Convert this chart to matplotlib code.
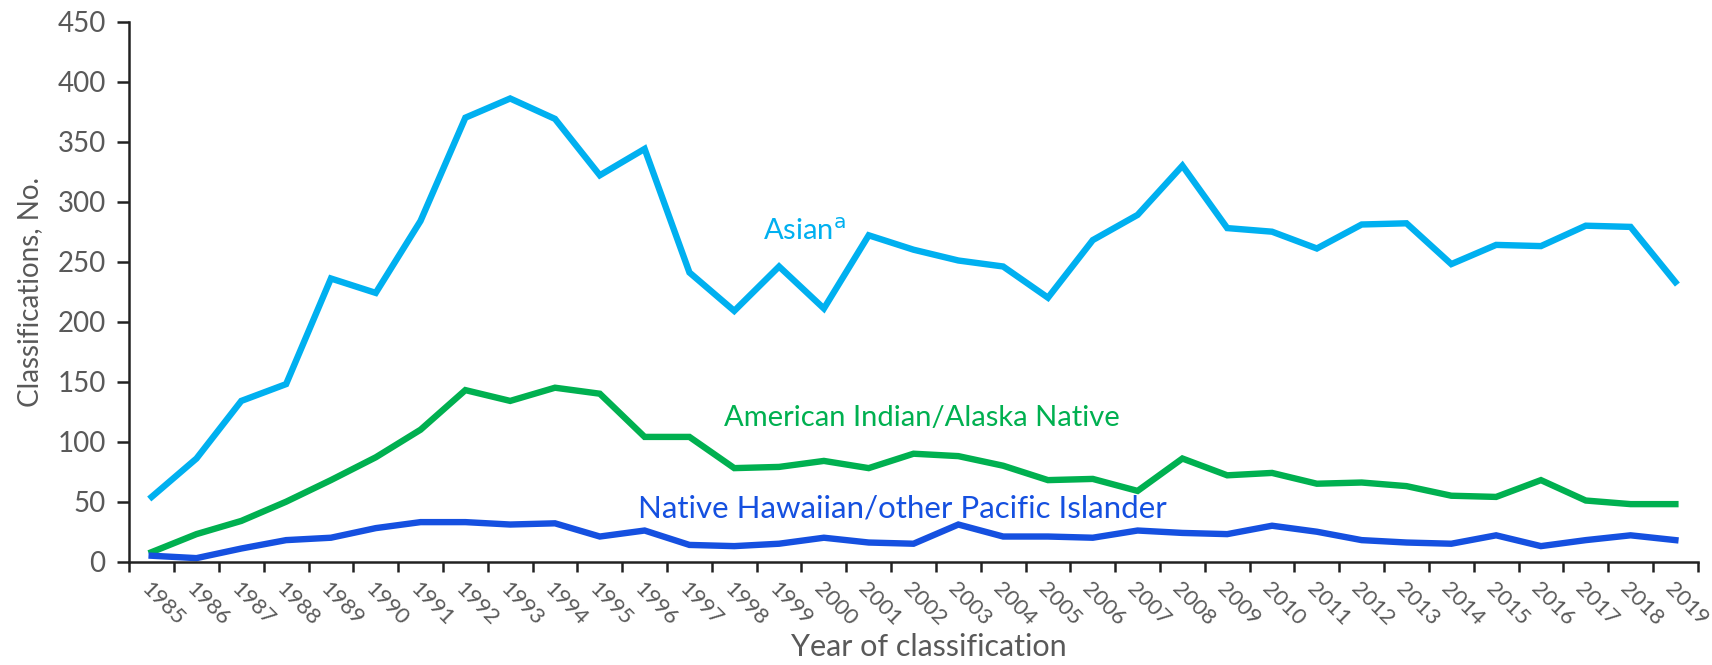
import numpy as np
import matplotlib.pyplot as plt

years = [str(y) for y in range(1985, 2020)]

asian = [54, 86, 134, 148, 236, 224, 284, 370, 386, 369, 322, 344, 241, 209, 246, 211, 272,
         260, 251, 246, 220, 268, 289, 330, 278, 275, 261, 281, 282, 248, 264, 263, 280, 279, 233]
aian = [8, 23, 34, 50, 68, 87, 110, 143, 134, 145, 140, 104, 104, 78, 79, 84, 78,
        90, 88, 80, 68, 69, 59, 86, 72, 74, 65, 66, 63, 55, 54, 68, 51, 48, 48]
nhpi = [5, 3, 11, 18, 20, 28, 33, 33, 31, 32, 21, 26, 14, 13, 15, 20, 16,
        15, 31, 21, 21, 20, 26, 24, 23, 30, 25, 18, 16, 15, 22, 13, 18, 22, 18]

c_asian = '#00B0F0'
c_aian = '#00B050'
c_nhpi = '#1550E0'
grey = '#595959'

plt.rcParams['font.family'] = ['Lato', 'DejaVu Sans']

fig = plt.figure(figsize=(17.12, 6.65), dpi=100)
ax = fig.add_axes([0.0755, 0.1553, 0.9162, 0.8121])

x = np.arange(len(years))
ax.plot(x, asian, color=c_asian, lw=4.6, solid_joinstyle='miter')
ax.plot(x, aian, color=c_aian, lw=4.6, solid_joinstyle='miter')
ax.plot(x, nhpi, color=c_nhpi, lw=4.6, solid_joinstyle='miter')

ax.set_xlim(-0.5, len(years) - 0.5)
ax.set_ylim(0, 450)
ax.set_yticks(range(0, 451, 50))

# category axis: tick marks between categories, labels at centres
ax.set_xticks(np.arange(-0.5, len(years), 1.0))
ax.set_xticklabels([])
ax.set_xticks(x, minor=True)
ax.set_xticklabels(years, minor=True, rotation=-45, ha='left', va='top',
                   rotation_mode='anchor', color=grey, fontsize=16)
ax.tick_params(axis='x', which='minor', length=0, pad=12)
ax.tick_params(axis='x', which='major', length=7, width=1.8, direction='out', color='#222222')
ax.tick_params(axis='y', length=9, width=1.8, color='#222222', labelsize=20,
               labelcolor=grey, pad=8)

for s in ['top', 'right']:
    ax.spines[s].set_visible(False)
for s in ['left', 'bottom']:
    ax.spines[s].set_linewidth(1.8)
    ax.spines[s].set_color('#222222')

ax.set_ylabel('Classifications, No.', fontsize=20, color=grey, labelpad=10)
fig.text(929 / 1712, 0.014, 'Year of classification', fontsize=22, color=grey,
         ha='center', va='baseline')

ax.text(13.64, 275, 'Asian$^{\\mathrm{a}}$', color=c_asian, fontsize=21, va='center', ha='left')
ax.text(12.76, 120, 'American Indian/Alaska Native', color=c_aian, fontsize=21,
        va='center', ha='left')
ax.text(10.85, 44, 'Native Hawaiian/other Pacific Islander', color=c_nhpi, fontsize=22.5,
        va='center', ha='left')

fig.savefig('out.png', dpi=100)
